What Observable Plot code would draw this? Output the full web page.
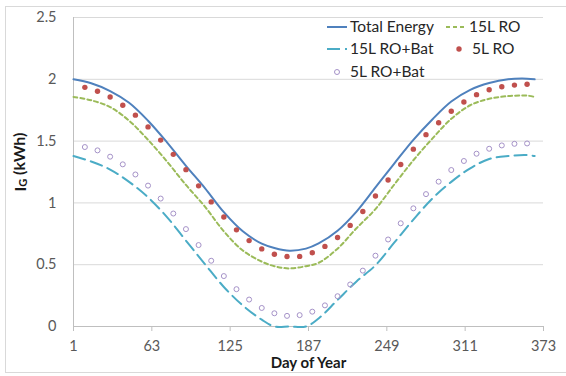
<!DOCTYPE html>
<html>
<head>
<meta charset="utf-8">
<script src="https://cdn.jsdelivr.net/npm/d3@7"></script>
<script src="https://cdn.jsdelivr.net/npm/@observablehq/plot@0.6"></script>
<style>
  html, body { margin: 0; padding: 0; background: white; }
  #chart { width: 566px; height: 376px; }
  svg text { font-family: Lato, "Open Sans", sans-serif; }
  g[aria-label="y-axis tick label"] text, g[aria-label="x-axis tick label"] text { fill: #595959; }
</style>
</head>
<body>
<div id="chart"></div>
<script>
// ---- data ----
const xTicks = [1, 63, 125, 187, 249, 311, 373];
const yTicks = [0, 0.5, 1, 1.5, 2, 2.5];

const seriesNames = ["Total Energy", "15L RO", "15L RO+Bat", "5L RO", "5L RO+Bat"];

// smooth series (day of year)
const lineDays    = [1, 15, 30, 45, 60, 75, 90, 105, 120, 135, 150, 160, 172, 185, 195, 210, 225, 240, 255, 270, 285, 300, 315, 330, 345, 360, 366];
const totalEnergy = [2.0, 1.968, 1.905, 1.81, 1.665, 1.49, 1.30, 1.12, 0.925, 0.77, 0.67, 0.635, 0.613, 0.630, 0.672, 0.775, 0.93, 1.125, 1.32, 1.51, 1.675, 1.82, 1.915, 1.97, 2.0, 2.005, 2.0];
const ro15        = [1.857, 1.83, 1.775, 1.665, 1.51, 1.335, 1.145, 0.97, 0.77, 0.615, 0.525, 0.488, 0.47, 0.488, 0.515, 0.63, 0.795, 0.95, 1.15, 1.345, 1.52, 1.68, 1.79, 1.842, 1.864, 1.868, 1.857];
const ro15Bat     = [1.379, 1.335, 1.27, 1.17, 1.045, 0.885, 0.695, 0.505, 0.32, 0.17, 0.055, 0, 0, 0, 0.065, 0.215, 0.365, 0.495, 0.68, 0.865, 1.035, 1.17, 1.28, 1.355, 1.38, 1.387, 1.379];

// marker series
const pointDays = [10, 20, 30, 40, 50, 60, 70, 80, 90, 100, 110, 120, 130, 140, 150, 160, 170, 180, 190, 200, 210, 220, 230, 240, 250, 260, 270, 280, 290, 300, 310, 320, 330, 340, 350, 360];
const ro5    = [1.935, 1.903, 1.857, 1.79, 1.71, 1.615, 1.508, 1.393, 1.269, 1.138, 1.008, 0.886, 0.782, 0.695, 0.628, 0.584, 0.566, 0.567, 0.597, 0.648, 0.72, 0.818, 0.93, 1.056, 1.185, 1.311, 1.435, 1.552, 1.648, 1.742, 1.816, 1.876, 1.916, 1.94, 1.953, 1.96];
const ro5Bat = [1.452, 1.425, 1.374, 1.312, 1.23, 1.14, 1.035, 0.914, 0.788, 0.659, 0.532, 0.408, 0.302, 0.218, 0.15, 0.107, 0.086, 0.092, 0.12, 0.171, 0.245, 0.34, 0.452, 0.573, 0.704, 0.835, 0.956, 1.071, 1.172, 1.266, 1.339, 1.398, 1.438, 1.465, 1.478, 1.481];

const colors = {te: "#4F81BD", ro15: "#9BBB59", ro15Bat: "#4BACC6", ro5: "#C0504D", ro5Bat: "#A592C8"};

const toRows = (xs, ys) => xs.map((d, i) => ({day: d, v: ys[i]}));
const teRows = toRows(lineDays, totalEnergy);
const ro15Rows = toRows(lineDays, ro15);
const ro15BatRows = toRows(lineDays, ro15Bat);
const ro5Rows = toRows(pointDays, ro5);
const ro5BatRows = toRows(pointDays, ro5Bat);

const chart = Plot.plot({
  width: 566,
  height: 376,
  marginLeft: 73,
  marginRight: 23,
  marginTop: 17,
  marginBottom: 50,
  style: {fontFamily: "Lato, sans-serif", fontSize: "14.5px", background: "white", color: "#595959"},
  x: {domain: [1, 373]},
  y: {domain: [0, 2.5]},
  marks: [
    Plot.gridY(yTicks, {stroke: "#d9d9d9", strokeOpacity: 1}),
    Plot.axisY(yTicks, {tickSize: 0, tickPadding: 17, tickFormat: d => String(d), label: null}),
    Plot.axisX(xTicks, {tickSize: 5, tickPadding: 9.5, label: null, stroke: "#bfbfbf"}),
    Plot.ruleX([1], {stroke: "#bfbfbf"}),
    Plot.ruleY([0], {stroke: "#bfbfbf"}),
    Plot.line(teRows, {x: "day", y: "v", stroke: colors.te, strokeWidth: 2, curve: "catmull-rom"}),
    Plot.line(ro15Rows, {x: "day", y: "v", stroke: colors.ro15, strokeWidth: 2, strokeDasharray: "4,3", curve: "catmull-rom"}),
    Plot.line(ro15BatRows, {x: "day", y: "v", stroke: colors.ro15Bat, strokeWidth: 2, strokeDasharray: "12,6", curve: "catmull-rom"}),
    Plot.dot(ro5Rows, {x: "day", y: "v", r: 2.7, fill: colors.ro5, stroke: "none"}),
    Plot.dot(ro5BatRows, {x: "day", y: "v", r: 2.5, fill: "none", stroke: colors.ro5Bat, strokeWidth: 1}),
    Plot.text(["Day of Year"], {frameAnchor: "bottom", dy: 41.5, fontWeight: "bold", fill: "#1a1a1a", fontSize: 15})
  ]
});
document.getElementById("chart").appendChild(chart);

const svg = d3.select(chart);
// outer chart-area border
svg.append("rect").attr("x", 5.5).attr("y", 6.5).attr("width", 570).attr("height", 366)
  .attr("fill", "none").attr("stroke", "#d9d9d9");

// y-axis title with subscript
const yt = svg.append("text")
  .attr("transform", "translate(19,162) rotate(-90)")
  .attr("text-anchor", "middle")
  .attr("dominant-baseline", "central")
  .attr("font-weight", "bold")
  .attr("font-size", 16)
  .attr("fill", "#1a1a1a");
yt.append("tspan").text("I");
yt.append("tspan").attr("font-size", 11).attr("dy", "0.3em").text("G");
yt.append("tspan").attr("dy", "-0.3em").text(" (kWh)");

// legend
const leg = svg.append("g").attr("font-size", 15.5).attr("fill", "#262626").attr("text-anchor", "start");
const items = [
  {name: seriesNames[0], x: 327, y: 27, kind: "line", color: colors.te, dash: null},
  {name: seriesNames[1], x: 446, y: 27, kind: "line", color: colors.ro15, dash: "4,3"},
  {name: seriesNames[2], x: 327, y: 49, kind: "line", color: colors.ro15Bat, dash: "13,5"},
  {name: seriesNames[3], x: 449, y: 49, kind: "dot", color: colors.ro5},
  {name: seriesNames[4], x: 327, y: 72, kind: "circle", color: colors.ro5Bat}
];
for (const it of items) {
  if (it.kind === "line") {
    const l = leg.append("line").attr("x1", it.x).attr("x2", it.x + 20).attr("y1", it.y).attr("y2", it.y)
      .attr("stroke", it.color).attr("stroke-width", 2);
    if (it.dash) l.attr("stroke-dasharray", it.dash);
  } else if (it.kind === "dot") {
    leg.append("circle").attr("cx", it.x + 10).attr("cy", it.y).attr("r", 2.7).attr("fill", it.color);
  } else {
    leg.append("circle").attr("cx", it.x + 10).attr("cy", it.y).attr("r", 2.5).attr("fill", "none")
      .attr("stroke", it.color).attr("stroke-width", 1);
  }
  leg.append("text").attr("x", it.x + 23).attr("y", it.y).attr("dy", "0.35em")
    .attr("text-anchor", "start").attr("fill", "#262626").text(it.name);
}
</script>
</body>
</html>
